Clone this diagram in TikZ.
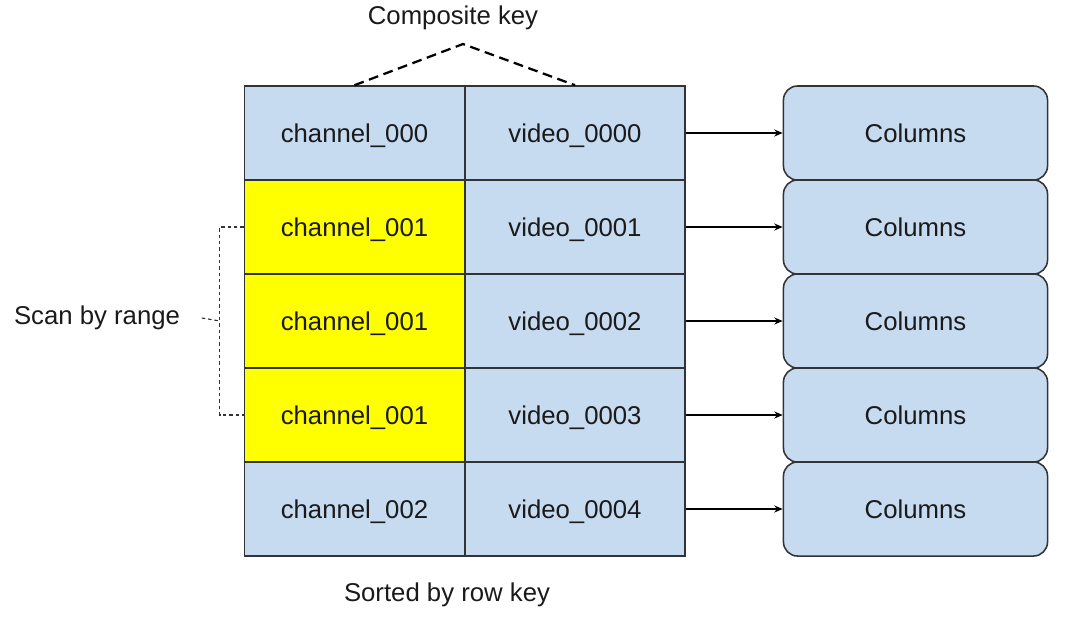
\documentclass[tikz,border=0pt]{standalone}
\usepackage{fontspec}
\setmainfont{Liberation Sans}
\usepackage{xcolor}
\usetikzlibrary{arrows.meta}
\definecolor{KeyBlue}{HTML}{C6DAF0}
\definecolor{KeyYellow}{HTML}{FFFF00}
\definecolor{LineGray}{HTML}{333333}
\definecolor{TextGray}{HTML}{1A1A1A}

\begin{document}
\begin{tikzpicture}[x=0.025cm,y=-0.025cm,
    every node/.style={font=\fontsize{18.3}{22}\selectfont,text=TextGray},
    KeyCell/.style={draw=LineGray,line width=1.1pt,fill=KeyBlue,inner sep=0pt,
                    text height=13pt,text depth=0pt,
                    minimum width=5.5cm,minimum height=2.35cm},
    HitCell/.style={KeyCell,fill=KeyYellow},
    ColBox/.style={draw=LineGray,line width=1.1pt,fill=KeyBlue,rounded corners=0.35cm,
                   text height=13pt,text depth=0pt,
                   minimum width=6.6cm,minimum height=2.35cm},
    RowArrow/.style={draw=black,line width=0.8pt,-{Stealth[length=6pt,width=5pt]}}]
  \useasboundingbox (0,0) rectangle (1065,620);
  %% row keys: channel | video
  \node[KeyCell] (c0) at (354.5,133) {channel\_000};
  \node[HitCell] (c1) at (354.5,227) {channel\_001};
  \node[HitCell] (c2) at (354.5,321) {channel\_001};
  \node[HitCell] (c3) at (354.5,415) {channel\_001};
  \node[KeyCell] (c4) at (354.5,509) {channel\_002};
  \node[KeyCell] (v0) at (575,133) {video\_0000};
  \node[KeyCell] (v1) at (575,227) {video\_0001};
  \node[KeyCell] (v2) at (575,321) {video\_0002};
  \node[KeyCell] (v3) at (575,415) {video\_0003};
  \node[KeyCell] (v4) at (575,509) {video\_0004};
  %% column families
  \node[ColBox] (col0) at (915.5,133) {Columns};
  \node[ColBox] (col1) at (915.5,227) {Columns};
  \node[ColBox] (col2) at (915.5,321) {Columns};
  \node[ColBox] (col3) at (915.5,415) {Columns};
  \node[ColBox] (col4) at (915.5,509) {Columns};
  \draw[RowArrow] (v0.east) -- (col0.west);
  \draw[RowArrow] (v1.east) -- (col1.west);
  \draw[RowArrow] (v2.east) -- (col2.west);
  \draw[RowArrow] (v3.east) -- (col3.west);
  \draw[RowArrow] (v4.east) -- (col4.west);
  %% labels
  \node (key) at (453,18) {Composite key};
  \coordinate (apex) at (463,44);
  \draw[line width=1.6pt,dash pattern=on 7pt off 4pt] (c0.north) -- (apex) -- (v0.north);
  \node (scan) at (97,318) {Scan by range};
  \coordinate (brk) at (220,321);
  \draw[LineGray,line width=0.8pt,dash pattern=on 2.5pt off 2pt]
    (c1.west) -- ++(-24,0) |- (c3.west);
  \draw[LineGray,line width=0.8pt,dash pattern=on 2.5pt off 2pt]
    ([xshift=12pt]scan.east) -- (brk);
  \node (sorted) at (447,595) {Sorted by row key};
\end{tikzpicture}
\end{document}
